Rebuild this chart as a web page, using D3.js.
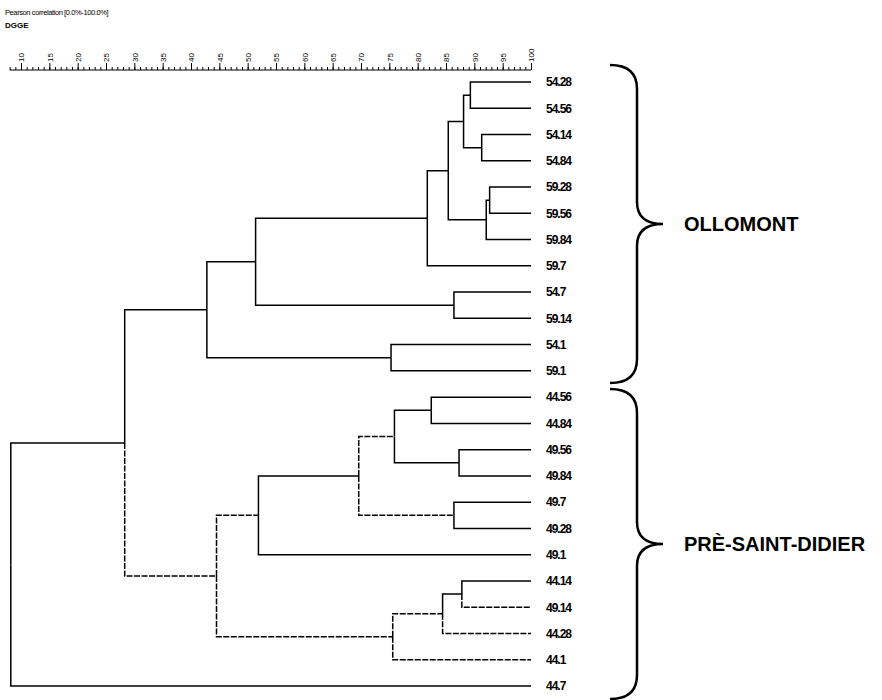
<!DOCTYPE html>
<html>
<head>
<meta charset="utf-8">
<script src="https://cdn.jsdelivr.net/npm/d3@7"></script>
<style>
  body { margin: 0; background: #fff; }
  text { font-family: "Liberation Sans", Arial, sans-serif; }
</style>
</head>
<body>
<div id="root"></div>
<script>
// Chart texts.
const titleText = 'Pearson correlation [0.0%-100.0%]';
const subtitleText = 'DGGE';

// Leaves, top to bottom.
const leafLabels = ['54.28', '54.56', '54.14', '54.84', '59.28', '59.56', '59.84', '59.7',
  '54.7', '59.14', '54.1', '59.1', '44.56', '44.84', '49.56', '49.84', '49.7', '49.28',
  '49.1', '44.14', '49.14', '44.28', '44.1', '44.7'];

// Merges: [node, upper child, lower child, similarity %].
const merges = [
  ['A', '54.28', '54.56', 89.3],
  ['B', '54.14', '54.84', 91.3],
  ['C', 'A', 'B', 88.1],
  ['D', '59.28', '59.56', 92.7],
  ['E', 'D', '59.84', 92.1],
  ['F', 'C', 'E', 85.4],
  ['G', 'F', '59.7', 81.7],
  ['H', '54.7', '59.14', 86.4],
  ['I', 'G', 'H', 51.4],
  ['J', '54.1', '59.1', 75.3],
  ['K', 'I', 'J', 42.8],
  ['L', '44.56', '44.84', 82.4],
  ['M', '49.56', '49.84', 87.3],
  ['N', 'L', 'M', 75.9],
  ['O', '49.7', '49.28', 86.4],
  ['P', 'N', 'O', 69.6],
  ['Q', 'P', '49.1', 51.9],
  ['R', '44.14', '49.14', 87.8],
  ['S', 'R', '44.28', 84.4],
  ['T', 'S', '44.1', 75.6],
  ['U', 'Q', 'T', 44.5],
  ['V', 'K', 'U', 28.3],
  ['W', 'V', '44.7', 8.2]
];

// Axis tick labels.
const axisTicks = [10, 15, 20, 25, 30, 35, 40, 45, 50, 55, 60, 65, 70, 75, 80, 85, 90, 95, 100];

// Site groups (first and last leaf of each brace).
const groupNames = ['OLLOMONT', 'PRÈ-SAINT-DIDIER'];
const groupFirst = ['54.28', '44.56'];
const groupLast = ['59.1', '44.7'];

// Branches that look broken (dashed) in the scan.
const dashedBranches = ['U', 'Q', 'N', 'O', 'T', 'S', '49.14', '44.28', '44.1'];

const width = 882;
const height = 700;
const axisY = 70;

const svg = d3.select('#root')
  .append('svg')
  .attr('width', width)
  .attr('height', height);

// Scales.
const xScale = d3.scaleLinear()
  .domain([10, 100])
  .range([21, 531]);

const yScale = d3.scalePoint()
  .domain(leafLabels)
  .range([82, 686]);

// Build the tree from the merge list.
const nodeByName = {};
leafLabels.forEach(name => { nodeByName[name] = { name: name, level: 100 }; });
merges.forEach(([name, a, b, level]) => {
  nodeByName[name] = { name: name, level: level, children: [nodeByName[a], nodeByName[b]] };
});
const root = d3.hierarchy(nodeByName[merges[merges.length - 1][0]]);

root.eachAfter(node => {
  node.px = xScale(node.data.level);
  if (node.children) {
    node.py = d3.mean(node.children, c => c.py);
  } else {
    node.py = yScale(node.data.name);
  }
});

// Title.
svg.append('text')
  .attr('x', 5)
  .attr('y', 15)
  .attr('font-size', 7.5)
  .attr('letter-spacing', -0.4)
  .text(titleText);

svg.append('text')
  .attr('x', 5)
  .attr('y', 28)
  .attr('font-size', 8)
  .attr('font-weight', 'bold')
  .text(subtitleText);

// Axis: minor ticks, major ticks with rotated labels.
const minorAxis = d3.axisTop(xScale)
  .tickValues(d3.range(8, 101))
  .tickSize(3)
  .tickSizeOuter(0)
  .tickFormat('');

svg.append('g')
  .attr('transform', `translate(0, ${axisY})`)
  .call(minorAxis)
  .call(g => g.select('.domain').remove());

const majorAxis = d3.axisTop(xScale)
  .tickValues(axisTicks)
  .tickSize(7)
  .tickSizeOuter(0)
  .tickFormat(d3.format('d'));

const axisG = svg.append('g')
  .attr('transform', `translate(0, ${axisY})`)
  .call(majorAxis)
  .call(g => g.select('.domain').remove());

axisG.selectAll('.tick text')
  .attr('transform', 'rotate(-90)')
  .attr('x', 8)
  .attr('y', 0)
  .attr('dy', '0.35em')
  .attr('text-anchor', 'start')
  .attr('font-size', 8)
  .attr('font-family', '"Liberation Sans", Arial, sans-serif');

svg.append('line')
  .attr('x1', xScale(8))
  .attr('x2', xScale(100))
  .attr('y1', axisY)
  .attr('y2', axisY)
  .attr('stroke', '#000')
  .attr('stroke-width', 1.2);

// Dendrogram branches (elbow links).
svg.append('g')
  .selectAll('path')
  .data(root.links())
  .enter()
  .append('path')
  .attr('d', d => `M${d.source.px},${d.source.py}V${d.target.py}H${d.target.px}`)
  .attr('fill', 'none')
  .attr('stroke', '#000')
  .attr('stroke-width', 1.5)
  .attr('stroke-dasharray', d => dashedBranches.includes(d.target.data.name) ? '6,1.5' : null);

// Leaf labels.
svg.append('g')
  .selectAll('text')
  .data(root.leaves())
  .enter()
  .append('text')
  .attr('x', xScale(100) + 15)
  .attr('y', d => d.py)
  .attr('dy', '0.36em')
  .attr('font-size', 12)
  .attr('font-weight', 'bold')
  .attr('letter-spacing', -1)
  .text(d => d.data.name);

// Braces with group names.
const braceX = 637;
const gap = (yScale.step()) / 2;
groupNames.forEach((name, i) => {
  const top = i === 0 ? yScale(groupFirst[i]) - 17 : yScale(groupFirst[i]) - gap + 5;
  const bottom = i === groupNames.length - 1 ? yScale(groupLast[i]) + 13 : yScale(groupLast[i]) + gap - 1;
  const mid = (top + bottom) / 2;
  const path = `M${braceX - 27},${top} Q${braceX},${top} ${braceX},${top + 24}` +
    ` L${braceX},${mid - 22} Q${braceX},${mid} ${braceX + 26},${mid}` +
    ` Q${braceX},${mid} ${braceX},${mid + 22} L${braceX},${bottom - 24}` +
    ` Q${braceX},${bottom} ${braceX - 27},${bottom}`;
  svg.append('path')
    .attr('d', path)
    .attr('fill', 'none')
    .attr('stroke', '#000')
    .attr('stroke-width', 2.5);
  svg.append('text')
    .attr('x', braceX + 47)
    .attr('y', mid)
    .attr('dy', '0.36em')
    .attr('font-size', 20)
    .attr('font-weight', 'bold')
    .text(name);
});
</script>
</body>
</html>
